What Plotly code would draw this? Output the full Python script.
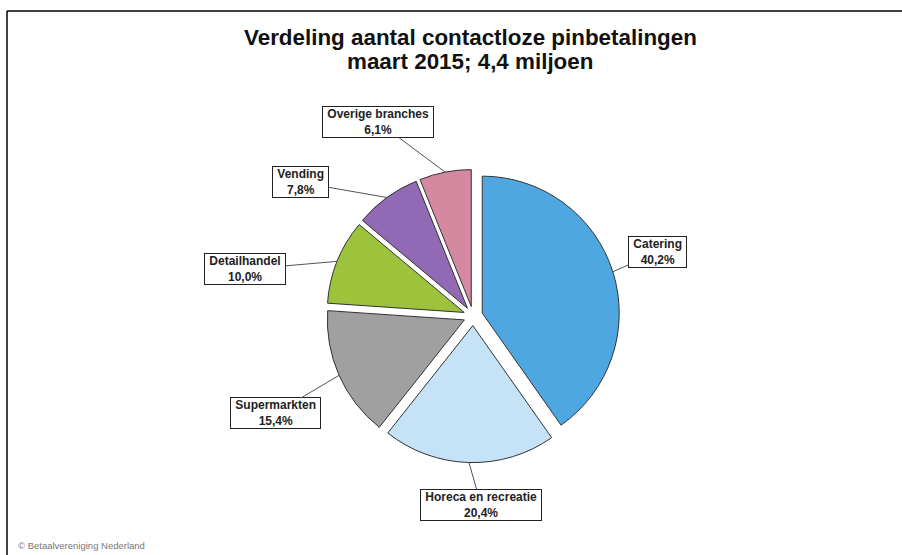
import math
import plotly.graph_objects as go

# ---- data ----
categories = ["Catering", "Horeca en recreatie", "Supermarkten",
              "Detailhandel", "Vending", "Overige branches"]
shares = [40.2, 20.4, 15.4, 10.0, 7.8, 6.1]
share_labels = ["40,2%", "20,4%", "15,4%", "10,0%", "7,8%", "6,1%"]
colors = ["#4FA7E1", "#C6E2F6", "#A0A0A0", "#9DC23C", "#9169B4", "#D489A1"]
title_lines = ["Verdeling aantal contactloze pinbetalingen", "maart 2015; 4,4 miljoen"]
source_text = "© Betaalvereniging Nederland"

# label box offsets (px) from slice edge point
label_dx = [45, 12, -64, -92, -86, -67]
label_dy = [-20, 42, 38, 8, -15, -50]

W, H = 902, 555
dom_x = [0.362, 0.687]
dom_y = [0.1665, 0.6947]
pull = 0.07

fig = go.Figure()
fig.add_trace(go.Pie(
    labels=categories, values=shares, sort=False, direction="clockwise",
    rotation=0, pull=[pull] * len(shares),
    marker=dict(colors=colors, line=dict(color="#333333", width=1)),
    textinfo="none", hoverinfo="label+percent", showlegend=False,
    domain=dict(x=dom_x, y=dom_y),
))

# geometry as plotly computes it
cx = W * (dom_x[0] + dom_x[1]) / 2
cy = H * (1 - (dom_y[0] + dom_y[1]) / 2)
r = min(W * (dom_x[1] - dom_x[0]), H * (dom_y[1] - dom_y[0])) / (2 * (1 + pull))
total = sum(shares)
cum = 0.0
annotations = []
pad = "&nbsp;"
for i, (cat, v) in enumerate(zip(categories, shares)):
    mid = (cum + v / 2) / total * 2 * math.pi
    cum += v
    px = cx + r * (1 + pull) * math.sin(mid)
    py = cy - r * (1 + pull) * math.cos(mid)
    annotations.append(dict(
        x=px / W, y=1 - py / H, xref="paper", yref="paper",
        text=f"<b>{pad}{cat}{pad}<br>{share_labels[i]}</b>",
        showarrow=True, arrowhead=0, arrowwidth=1, arrowcolor="#555555",
        ax=label_dx[i], ay=label_dy[i], height=28,
        font=dict(family="Liberation Sans, Arial", size=12, color="#222222"),
        bgcolor="white", bordercolor="#222222", borderwidth=1, borderpad=1,
        align="center",
    ))

for line, ypx in zip(title_lines, [38, 62]):
    annotations.append(dict(
        x=470 / W, y=1 - ypx / H, xref="paper", yref="paper", showarrow=False,
        text=f"<b>{line}</b>",
        font=dict(family="Liberation Sans, Arial", size=22.4, color="#111111"),
        xanchor="center", yanchor="middle", align="center",
    ))
annotations.append(dict(
    x=16 / W, y=1 - 545 / H, xref="paper", yref="paper", showarrow=False,
    text=source_text, xanchor="left", yanchor="middle",
    font=dict(family="Liberation Sans, Arial", size=9.5, color="#777777"),
))

shapes = [
    dict(type="line", xref="paper", yref="paper", x0=7 / W, x1=1, y0=1 - 11 / H, y1=1 - 11 / H,
         line=dict(color="black", width=1.5)),
    dict(type="line", xref="paper", yref="paper", x0=7 / W, x1=7 / W, y0=1 - 11 / H, y1=0,
         line=dict(color="black", width=1.5)),
]

fig.update_layout(
    width=W, height=H, margin=dict(l=0, r=0, t=0, b=0),
    paper_bgcolor="white", plot_bgcolor="white",
    annotations=annotations, shapes=shapes,
)
fig.write_html("out.html", config={"displayModeBar": False},
               post_script="document.body.style.margin='0px';")
